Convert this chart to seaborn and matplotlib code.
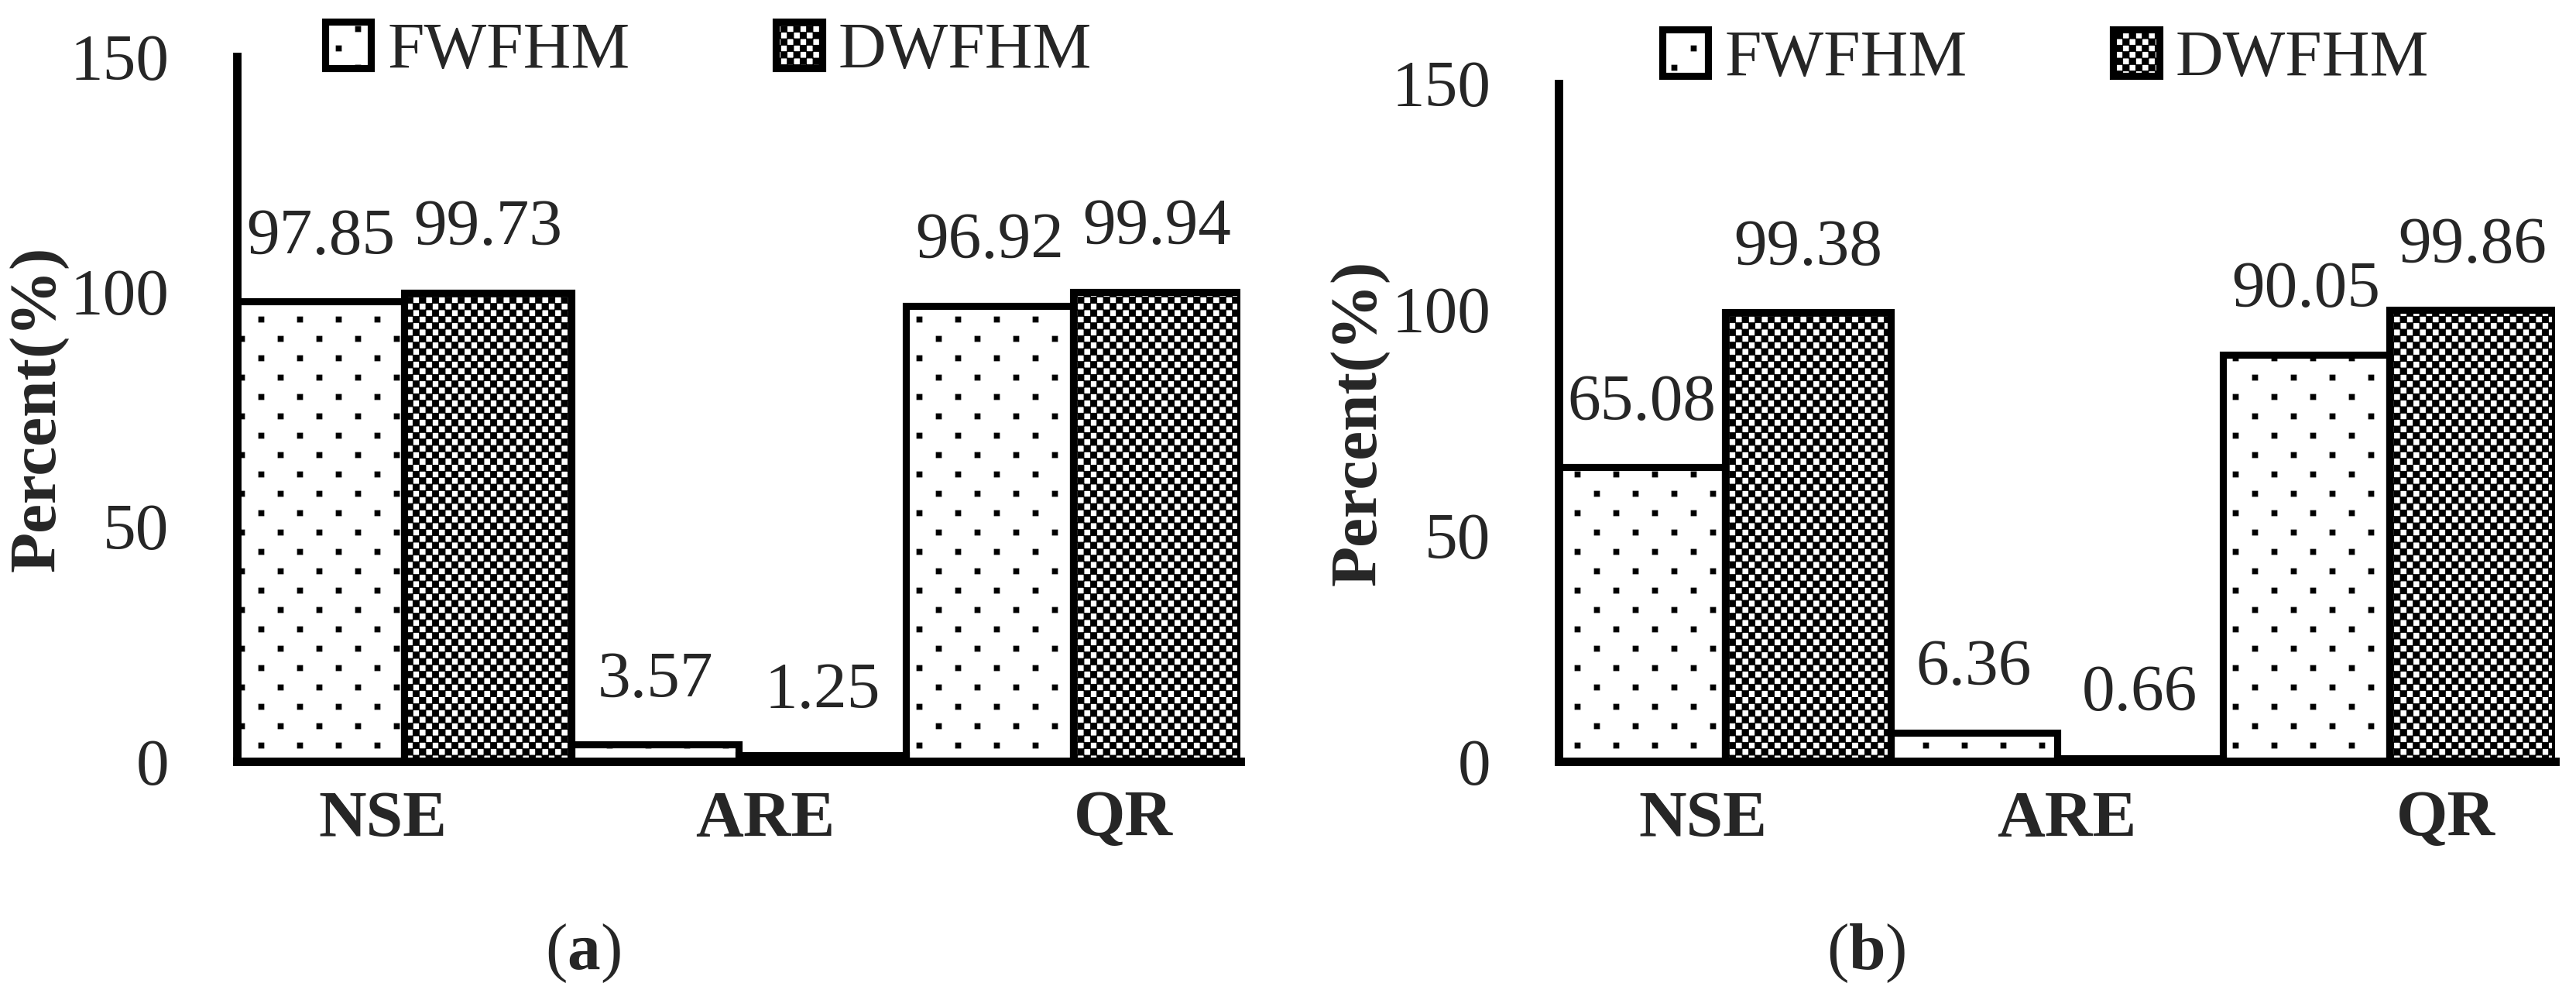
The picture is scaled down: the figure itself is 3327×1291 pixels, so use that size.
import numpy as np
import pandas as pd
import matplotlib
matplotlib.use("Agg")
import matplotlib.pyplot as plt
import matplotlib.hatch as mhatch
from matplotlib.path import Path
import seaborn as sns

# ---------------- data ----------------
metrics = ["NSE", "ARE", "QR"]
models = ["FWFHM", "DWFHM"]
fw_a = [97.85, 3.57, 96.92]
dw_a = [99.73, 1.25, 99.94]
fw_b = [65.08, 6.36, 90.05]
dw_b = [99.38, 0.66, 99.86]
y_ticks = [0, 50, 100, 150]
panel_tags = ["a", "b"]


# ---------------- custom fill textures (dots / checkerboard) ----------------
class DotHatch(mhatch.HatchPatternBase):
    def __init__(self, hatch, density):
        self.ncol = hatch.count("o") * density
        self.nrow = 2 * self.ncol
        self.num_vertices = self.ncol * self.nrow * 5

    def set_vertices_and_codes(self, vertices, codes):
        h = 0.0115
        parts = []
        for r in range(self.nrow):
            y = (r + 0.5) / self.nrow
            for c in range(self.ncol):
                x = (c + 0.25 + 0.5 * (r % 2)) / self.ncol
                parts.append([[x - h, y - h], [x + h, y - h], [x + h, y + h],
                              [x - h, y + h], [x - h, y - h]])
        vertices[:] = np.array(parts).reshape(-1, 2)
        codes[:] = np.tile([Path.MOVETO, Path.LINETO, Path.LINETO,
                            Path.LINETO, Path.CLOSEPOLY], self.ncol * self.nrow)


class CheckerHatch(mhatch.HatchPatternBase):
    def __init__(self, hatch, density):
        self.n = hatch.count("*") * density
        self.cells = [(i, j) for i in range(self.n) for j in range(self.n)
                      if (i + j) % 2 == 0]
        self.num_vertices = len(self.cells) * 5

    def set_vertices_and_codes(self, vertices, codes):
        d = 1.0 / self.n
        parts = []
        for i, j in self.cells:
            x0, y0 = i * d, j * d
            parts.append([[x0, y0], [x0 + d, y0], [x0 + d, y0 + d],
                          [x0, y0 + d], [x0, y0]])
        vertices[:] = np.array(parts).reshape(-1, 2)
        codes[:] = np.tile([Path.MOVETO, Path.LINETO, Path.LINETO,
                            Path.LINETO, Path.CLOSEPOLY], len(self.cells))


mhatch._hatch_types = [t for t in mhatch._hatch_types
                       if t not in (mhatch.SmallCircles, mhatch.Stars)] + [DotHatch, CheckerHatch]

# ---------------- style ----------------
sns.set_style("white")
plt.rcParams["font.family"] = ["Liberation Serif", "DejaVu Serif"]
plt.rcParams["mathtext.fontset"] = "custom"
plt.rcParams["mathtext.rm"] = "Liberation Serif"
plt.rcParams["mathtext.bf"] = "Liberation Serif:bold"
plt.rcParams["hatch.linewidth"] = 0.2
plt.rcParams["hatch.color"] = "black"

FS = 20.5
W, H, DPI = 3327, 1291, 300
fig = plt.figure(figsize=(W / DPI, H / DPI), dpi=DPI)
fig.patch.set_facecolor("white")

panels = [
    dict(fw=fw_a, dw=dw_a, rect=[306 / W, 1 - 983 / H, 1296 / W, 910 / H],
         shift=[-0.065, 0.08, 0.15], leg=(915 / W, 1 - 67 / H),
         ylab=-0.168, tag=(753 / W, 1 - 1231 / H)),
    dict(fw=fw_b, dw=dw_b, rect=[2013 / W, 1 - 983 / H, 1287 / W, 875 / H],
         shift=[-0.066, 0.03, 0.17], leg=(2642 / W, 1 - 77 / H),
         ylab=-0.170, tag=(2410 / W, 1 - 1231 / H)),
]

for p, tag in zip(panels, panel_tags):
    ax = fig.add_axes(p["rect"])
    ax.set_facecolor("none")
    df = pd.DataFrame({
        "metric": metrics * 2,
        "model": [models[0]] * len(metrics) + [models[1]] * len(metrics),
        "value": list(p["fw"]) + list(p["dw"]),
    })
    sns.barplot(data=df, x="metric", y="value", hue="model", order=metrics,
                hue_order=models, palette=["white", "white"], saturation=1,
                edgecolor="black", linewidth=2.2, width=1.0, gap=0,
                errorbar=None, legend=False, ax=ax)
    for bar in ax.containers[0]:
        bar.set_hatch("o")
        bar.set_edgecolor("black")
    for bar in ax.containers[1]:
        bar.set_hatch("******")
        bar.set_edgecolor("black")

    for cont in ax.containers:
        ax.bar_label(cont, fmt="%.2f", padding=10.5, fontsize=FS)

    ax.set_ylim(0, 150)
    ax.set_xlim(-0.5, len(metrics) - 0.5)
    ax.set_yticks(y_ticks)
    ax.set_yticklabels([str(v) for v in y_ticks], fontsize=FS)
    ax.set_xticks([i + s for i, s in enumerate(p["shift"])])
    ax.set_xticklabels(metrics, fontsize=FS, fontweight="bold")
    ax.tick_params(axis="y", direction="out", length=7, width=2.5, pad=14,
                   color="black")
    ax.tick_params(axis="x", length=0, pad=9)
    for side in ["top", "right"]:
        ax.spines[side].set_visible(False)
    for side in ["left", "bottom"]:
        ax.spines[side].set_linewidth(2.6)
        ax.spines[side].set_color("black")
    ax.set_xlabel("")
    ax.set_ylabel("Percent(%)", fontsize=FS, fontweight="bold")
    ax.yaxis.set_label_coords(p["ylab"], 0.5)

    handles = [ax.containers[0][0], ax.containers[1][0]]
    ax.legend(handles, models, ncol=2, frameon=False, loc="center",
              bbox_to_anchor=p["leg"], bbox_transform=fig.transFigure,
              handlelength=0.7, handleheight=0.7, handletextpad=0.25,
              columnspacing=2.2, fontsize=FS, borderpad=0, borderaxespad=0)

    fig.text(p["tag"][0], p["tag"][1],
             r"$\mathrm{(}\mathbf{" + tag + r"}\mathrm{)}$",
             ha="center", va="center", fontsize=FS)

fig.savefig("out.png", dpi=DPI, facecolor="white")
